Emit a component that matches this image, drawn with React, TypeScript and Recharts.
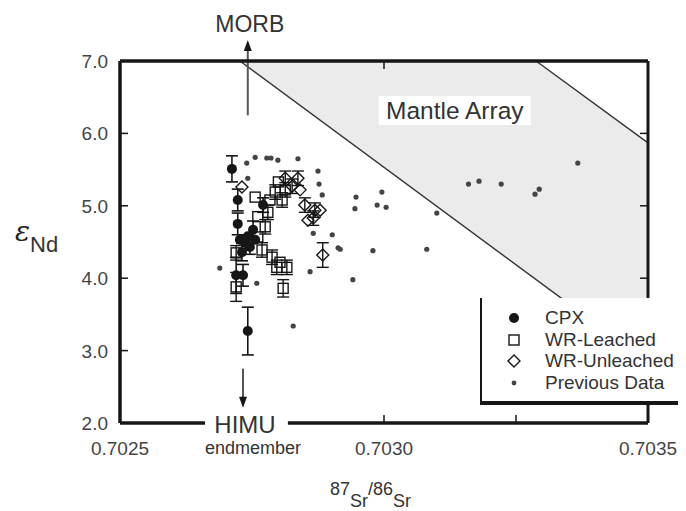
import {
  ComposedChart,
  Scatter,
  Area,
  XAxis,
  YAxis,
  ReferenceLine,
  ReferenceDot,
  ErrorBar,
  Legend,
} from "recharts";

const FONT = "'Liberation Sans', Arial, sans-serif";
const INK = "#161616";

// CPX (filled circles)
const cpxX = [0.702712, 0.702723, 0.702723, 0.702771, 0.702752, 0.702737, 0.702727, 0.702746, 0.702731, 0.70272, 0.702733, 0.702742, 0.702742, 0.702756];
const cpxY = [5.51, 5.08, 4.75, 5.01, 4.67, 4.49, 4.53, 4.43, 4.36, 4.04, 4.04, 3.27, 4.58, 4.53];
const cpxErr = [0.18, 0.15, 0.15, 0.1, 0.12, 0.1, 0, 0.1, 0.12, 0.25, 0.15, 0.33, 0, 0];

// WR-Leached (open squares)
const sqX = [0.702794, 0.702784, 0.702807, 0.70278, 0.702761, 0.702775, 0.702761, 0.702769, 0.702788, 0.702803, 0.702797, 0.702816, 0.702809, 0.70272, 0.70272, 0.702756, 0.702813, 0.7028];
const sqY = [5.19, 5.08, 5.08, 4.91, 4.85, 4.71, 4.57, 4.39, 4.29, 4.22, 4.15, 4.15, 3.86, 4.35, 3.88, 5.12, 5.22, 5.33];
const sqErr = [0.1, 0, 0.1, 0.1, 0, 0.1, 0, 0.1, 0.1, 0, 0.1, 0.1, 0.12, 0.1, 0.2, 0, 0.1, 0];

// WR-Unleached (open diamonds)
const dmX = [0.702813, 0.702837, 0.702826, 0.702841, 0.702869, 0.702856, 0.702884, 0.702731, 0.70285, 0.702879, 0.702866];
const dmY = [5.38, 5.38, 5.27, 5.22, 4.94, 4.8, 4.32, 5.26, 5.01, 4.94, 4.83];
const dmErr = [0.1, 0.1, 0.1, 0, 0.1, 0, 0.17, 0, 0.1, 0, 0.1];

// Previous data (small dots)
const pvX = [0.70274, 0.702756, 0.702778, 0.702742, 0.702786, 0.702799, 0.702837, 0.702875, 0.702877, 0.702883, 0.70286, 0.702828, 0.702902, 0.702913, 0.702947, 0.702996, 0.702945, 0.702987, 0.703004, 0.7031, 0.702917, 0.702979, 0.703081, 0.702941, 0.70316, 0.70318, 0.703222, 0.703286, 0.703294, 0.703367, 0.702689, 0.702759, 0.702866];
const pvY = [5.59, 5.67, 5.66, 5.38, 5.66, 5.63, 5.65, 5.48, 5.3, 5.15, 4.09, 3.34, 4.6, 4.42, 5.12, 5.19, 4.96, 5.01, 4.98, 4.9, 4.4, 4.38, 4.4, 3.98, 5.3, 5.34, 5.3, 5.16, 5.23, 5.59, 4.14, 3.93, 4.62];

// Mantle array band: x, lower edge, upper edge
const mantleX = [0.702727, 0.703288, 0.7035];
const mantleLow = [7.0, 3.98, 2.84];
const mantleHigh = [7.0, 7.0, 5.87];

// end-member arrows: x, tail, tip
const morbArrow = { x: 0.702742, from: 6.25, to: 7.29 };
const himuArrow = { x: 0.702733, from: 2.75, to: 2.21 };

// bottom axis is broken where the HIMU label sits
const xMin = 0.7025;
const xMax = 0.7035;
const himuGap = [0.702661, 0.702818];

const xTicks = [0.7025, 0.703, 0.70325, 0.7035];
const xLabelled = [0.7025, 0.703, 0.7035];
const yTicks = [2, 3, 4, 5, 6, 7];

const legendItems = [
  { key: "cpx", label: "CPX" },
  { key: "sq", label: "WR-Leached" },
  { key: "dm", label: "WR-Unleached" },
  { key: "pv", label: "Previous Data" },
];

const toPts = (xs: number[], ys: number[], es?: number[]) =>
  xs.map((x, i) => ({ x, y: ys[i], e: es ? es[i] : 0 }));

const cpx = toPts(cpxX, cpxY, cpxErr);
const sq = toPts(sqX, sqY, sqErr);
const dm = toPts(dmX, dmY, dmErr);
const pv = toPts(pvX, pvY);
const mantle = mantleX.map((x, i) => ({ x, band: [mantleLow[i], mantleHigh[i]] }));

function Circle({ cx, cy }: any) {
  return <circle cx={cx} cy={cy} r={5} fill={INK} />;
}
function Square({ cx, cy }: any) {
  return <rect x={cx - 5} y={cy - 5} width={10} height={10} fill="none" stroke={INK} strokeWidth={1.4} />;
}
function Diamond({ cx, cy }: any) {
  return (
    <polygon
      points={`${cx},${cy - 6} ${cx + 6},${cy} ${cx},${cy + 6} ${cx - 6},${cy}`}
      fill="none"
      stroke={INK}
      strokeWidth={1.4}
    />
  );
}
function Dot({ cx, cy }: any) {
  return <circle cx={cx} cy={cy} r={2.6} fill="#444" />;
}

function Arrow(props: any) {
  const { x1, y1, x2, y2, up } = props;
  const d = up ? 1 : -1;
  return (
    <g>
      <line x1={x1} y1={y1} x2={x2} y2={y2 + d * 8} stroke="#555" strokeWidth={2} />
      <polygon points={`${x2},${y2} ${x2 - 4},${y2 + d * 11} ${x2 + 4},${y2 + d * 11}`} fill={INK} />
      {up ? (
        <text x={x2 + 2} y={y2 - 8} textAnchor="middle" fontFamily={FONT} fontSize={23} fill="#333">
          MORB
        </text>
      ) : (
        <g>
          <text x={x2 + 2} y={y2 + 25} textAnchor="middle" fontFamily={FONT} fontSize={24} fill="#333">
            HIMU
          </text>
          <text x={x2 + 10} y={y2 + 46} textAnchor="middle" fontFamily={FONT} fontSize={18} fill="#333">
            endmember
          </text>
        </g>
      )}
    </g>
  );
}

function MantleLabel({ cx, cy }: any) {
  return (
    <g>
      <rect x={cx - 76} y={cy - 15} width={152} height={29} fill="#fff" />
      <text x={cx} y={cy + 8} textAnchor="middle" fontFamily={FONT} fontSize={24.5} fill="#333">
        Mantle Array
      </text>
    </g>
  );
}

function LeftTick({ x, y, payload }: any) {
  const ax = x + 12;
  return (
    <g>
      {payload.value > 2 && payload.value < 7 && <line x1={ax} x2={ax + 8} y1={y} y2={y} stroke={INK} strokeWidth={1.5} />}
      <text x={x} y={y} dy={7} textAnchor="end" fontFamily={FONT} fontSize={19} fill="#444">
        {payload.value.toFixed(1)}
      </text>
    </g>
  );
}

function BottomTick({ x, y, payload }: any) {
  const v = payload.value;
  return (
    <g>
      {v > 0.7025 && v < 0.7035 && <line x1={x} x2={x} y1={y} y2={y - 8} stroke={INK} strokeWidth={1.5} />}
      {xLabelled.includes(v) && (
        <text x={x} y={y + 32} textAnchor="middle" fontFamily={FONT} fontSize={19} fill="#444">
          {v.toFixed(4)}
        </text>
      )}
    </g>
  );
}

function TopTick({ x, y }: any) {
  return <line x1={x} x2={x} y1={y} y2={y + 8} stroke={INK} strokeWidth={1.5} />;
}

function RightTick({ x, y }: any) {
  return <line x1={x} x2={x - 8} y1={y} y2={y} stroke={INK} strokeWidth={1.5} />;
}

function LegendIcon({ k }: { k: string }) {
  return (
    <svg width={14} height={14} style={{ display: "block" }}>
      {k === "cpx" && <circle cx={7} cy={7} r={5} fill={INK} />}
      {k === "sq" && <rect x={2} y={2} width={10} height={10} fill="none" stroke={INK} strokeWidth={1.4} />}
      {k === "dm" && <polygon points="7,1 13,7 7,13 1,7" fill="none" stroke={INK} strokeWidth={1.4} />}
      {k === "pv" && <circle cx={7} cy={7} r={2.4} fill="#444" />}
    </svg>
  );
}

function LegendBox() {
  return (
    <div
      style={{
        position: "relative",
        width: 206,
        height: 107,
        boxSizing: "border-box",
        background: "#fff",
        borderLeft: `2px solid ${INK}`,
        borderBottom: `4px solid ${INK}`,
        overflow: "hidden",
        fontFamily: FONT,
        fontSize: 19,
        color: "#333",
      }}
    >
      {legendItems.map((it, i) => (
        <div
          key={it.key}
          style={{
            position: "absolute",
            left: 25,
            top: 9 + i * 21.7,
            height: 22,
            display: "flex",
            alignItems: "center",
            whiteSpace: "nowrap",
          }}
        >
          <LegendIcon k={it.key} />
          <span style={{ marginLeft: 24 }}>{it.label}</span>
        </div>
      ))}
    </div>
  );
}

function YLabel({ viewBox }: any) {
  const { x, y, height } = viewBox;
  return (
    <text x={x - 45} y={y + height / 2 - 1} fontFamily="'DejaVu Serif', serif" fontStyle="italic" fontSize={28} fill="#222">
      ε
      <tspan dy={11} fontFamily={FONT} fontStyle="normal" fontSize={22} fill="#333">
        Nd
      </tspan>
    </text>
  );
}

function XLabel({ viewBox }: any) {
  const { x, y } = viewBox;
  return (
    <text x={x + 210} y={y + 72} fontFamily={FONT} fontSize={18} fill="#333">
      87
      <tspan dy={12}>Sr</tspan>
      <tspan dy={-12}>/86</tspan>
      <tspan dy={12}>Sr</tspan>
    </text>
  );
}

export default function App() {
  return (
    <ComposedChart width={678} height={503} margin={{ top: 43, right: 28, bottom: 48, left: 52 }}>
      <XAxis
        type="number"
        dataKey="x"
        domain={[xMin, xMax]}
        allowDataOverflow
        ticks={xTicks}
        interval={0}
        height={40}
        tickSize={0}
        tickMargin={0}
        tick={<BottomTick />}
        axisLine={false}
        label={<XLabel />}
      />
      <XAxis
        xAxisId="t"
        orientation="top"
        type="number"
        dataKey="x"
        domain={[xMin, xMax]}
        allowDataOverflow
        ticks={[0.703]}
        height={10}
        tickSize={0}
        tickMargin={0}
        tick={<TopTick />}
        axisLine={{ stroke: INK, strokeWidth: 3.5 }}
      />
      <YAxis
        type="number"
        domain={[2, 7]}
        allowDataOverflow
        ticks={yTicks}
        interval={0}
        width={60}
        tickSize={0}
        tickMargin={12}
        tick={<LeftTick />}
        axisLine={{ stroke: INK, strokeWidth: 3.5 }}
        label={<YLabel />}
      />
      <YAxis
        yAxisId="r"
        orientation="right"
        type="number"
        domain={[2, 7]}
        allowDataOverflow
        ticks={[3, 4, 5, 6]}
        width={10}
        tickSize={0}
        tickMargin={0}
        tick={<RightTick />}
        axisLine={{ stroke: INK, strokeWidth: 3 }}
      />
      <Area
        data={mantle}
        dataKey="band"
        type="linear"
        stroke="none"
        fill="#ebebeb"
        fillOpacity={1}
        isAnimationActive={false}
      />
      <ReferenceLine
        segment={[{ x: mantleX[0], y: mantleLow[0] }, { x: mantleX[2], y: mantleLow[2] }]}
        stroke="#333"
        strokeWidth={1.4}
      />
      <ReferenceLine
        segment={[{ x: mantleX[1], y: mantleHigh[1] }, { x: mantleX[2], y: mantleHigh[2] }]}
        stroke="#333"
        strokeWidth={1.4}
      />
      <ReferenceLine
        segment={[{ x: xMin, y: 2 }, { x: himuGap[0], y: 2 }]}
        ifOverflow="visible"
        stroke={INK}
        strokeWidth={3.5}
      />
      <ReferenceLine
        segment={[{ x: himuGap[1], y: 2 }, { x: xMax, y: 2 }]}
        ifOverflow="visible"
        stroke={INK}
        strokeWidth={3.5}
      />
      <ReferenceDot x={0.703134} y={6.31} ifOverflow="visible" shape={<MantleLabel />} />
      <ReferenceLine
        segment={[{ x: morbArrow.x, y: morbArrow.from }, { x: morbArrow.x, y: morbArrow.to }]}
        ifOverflow="visible"
        shape={(p: any) => <Arrow {...p} up />}
      />
      <ReferenceLine
        segment={[{ x: himuArrow.x, y: himuArrow.from }, { x: himuArrow.x, y: himuArrow.to }]}
        ifOverflow="visible"
        shape={(p: any) => <Arrow {...p} />}
      />
      <Scatter data={pv} dataKey="y" shape={<Dot />} isAnimationActive={false} />
      <Scatter data={dm} dataKey="y" shape={<Diamond />} isAnimationActive={false}>
        <ErrorBar dataKey="e" direction="y" width={6} stroke={INK} strokeWidth={1.4} />
      </Scatter>
      <Scatter data={sq} dataKey="y" shape={<Square />} isAnimationActive={false}>
        <ErrorBar dataKey="e" direction="y" width={6} stroke={INK} strokeWidth={1.4} />
      </Scatter>
      <Scatter data={cpx} dataKey="y" shape={<Circle />} isAnimationActive={false}>
        <ErrorBar dataKey="e" direction="y" width={6} stroke={INK} strokeWidth={1.6} />
      </Scatter>
      <Legend
        layout="vertical"
        align="center"
        verticalAlign="middle"
        content={<LegendBox />}
        wrapperStyle={{ position: "absolute", left: 472, top: 290, width: 206 }}
      />
    </ComposedChart>
  );
}
